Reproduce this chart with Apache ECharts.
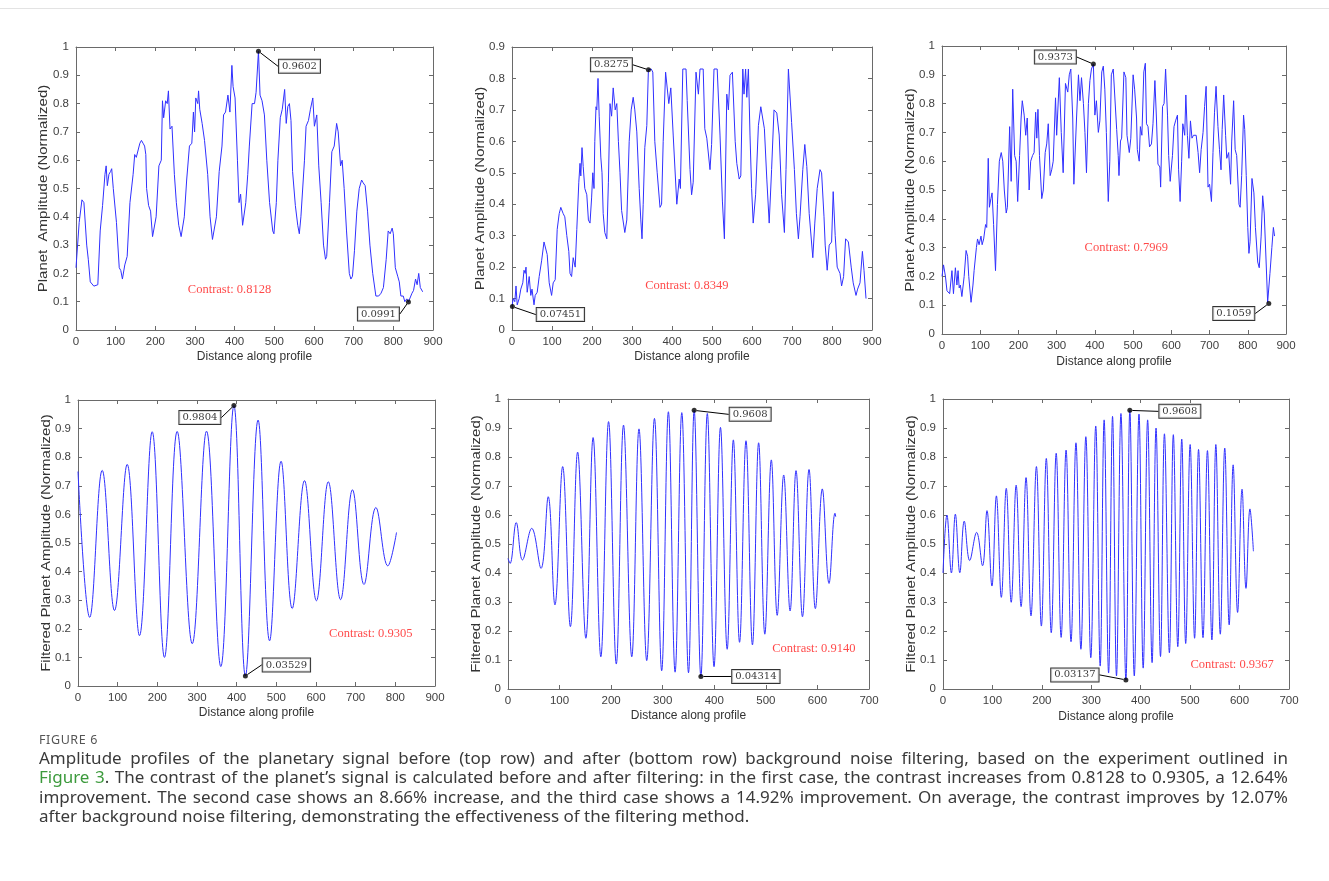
<!DOCTYPE html>
<html><head><meta charset="utf-8">
<script src="https://cdn.jsdelivr.net/npm/echarts@6/dist/echarts.min.js"></script>
<style>
html,body{margin:0;padding:0;background:#fff;}
#wrap{position:relative;width:1329px;height:881px;overflow:hidden;background:#fff;}
#chart{position:absolute;left:0;top:0;width:1329px;height:881px;}
#topline{position:absolute;left:0;top:8px;width:1329px;height:1px;background:#e3e3e3;}
#cap{position:absolute;left:39px;top:732px;font-family:'Noto Sans',sans-serif;}
.fig{font-size:12.5px;letter-spacing:0.6px;color:#555;line-height:16px;}
.ln{font-size:17px;line-height:19.3px;color:#3a3a3a;width:1249px;}
.j{text-align:justify;text-align-last:justify;}
.lnk{color:#3c9a3c;}
</style></head>
<body><div id="wrap"><div id="chart"></div><div id="topline"></div>
<div id="cap"><div class="fig">FIGURE 6</div>
<div class="ln j">Amplitude profiles of the planetary signal before (top row) and after (bottom row) background noise filtering, based on the experiment outlined in</div>
<div class="ln j"><span class="lnk">Figure 3</span>. The contrast of the planet’s signal is calculated before and after filtering: in the first case, the contrast increases from 0.8128 to 0.9305, a 12.64%</div>
<div class="ln j">improvement. The second case shows an 8.66% increase, and the third case shows a 14.92% improvement. On average, the contrast improves by 12.07%</div>
<div class="ln">after background noise filtering, demonstrating the effectiveness of the filtering method.</div></div>
</div>
<script>
// ---------- DATA ----------
const before1 = [[0,0.22],[8,0.38],[15,0.46],[20,0.45],[27,0.3],[31,0.25],[36,0.17],[41,0.165],[45,0.155],[50,0.15],[55,0.16],[61,0.35],[67,0.44],[73,0.55],[76,0.58],[79,0.51],[83,0.55],[87,0.56],[90,0.57],[94,0.5],[102,0.38],[109,0.22],[113,0.21],[117,0.18],[123,0.23],[129,0.26],[136,0.45],[144,0.55],[148,0.62],[152,0.61],[161,0.66],[165,0.67],[169,0.66],[173,0.65],[176,0.62],[178,0.5],[183,0.44],[188,0.42],[193,0.33],[196,0.325],[202,0.4],[209,0.58],[215,0.6],[218,0.81],[221,0.75],[226,0.81],[230,0.8],[233,0.845],[237,0.71],[242,0.72],[248,0.55],[253,0.45],[259,0.37],[265,0.33],[269,0.335],[273,0.4],[279,0.53],[286,0.65],[292,0.66],[296,0.77],[299,0.7],[302,0.82],[307,0.8],[309,0.845],[312,0.78],[318,0.73],[324,0.67],[332,0.55],[338,0.4],[344,0.32],[348,0.315],[354,0.4],[361,0.56],[368,0.65],[372,0.76],[377,0.77],[383,0.83],[388,0.77],[393,0.935],[396,0.86],[401,0.82],[407,0.6],[411,0.45],[415,0.48],[420,0.37],[428,0.45],[433,0.55],[437,0.65],[444,0.8],[450,0.8],[454,0.84],[460,0.985],[464,0.83],[469,0.81],[475,0.76],[481,0.6],[488,0.45],[496,0.35],[499,0.34],[505,0.45],[509,0.6],[515,0.75],[520,0.78],[526,0.85],[530,0.73],[534,0.79],[538,0.8],[542,0.74],[546,0.56],[553,0.44],[559,0.37],[563,0.34],[567,0.4],[576,0.6],[580,0.72],[586,0.74],[591,0.78],[597,0.82],[601,0.72],[607,0.76],[612,0.58],[618,0.45],[624,0.3],[629,0.25],[632,0.26],[639,0.45],[645,0.63],[651,0.65],[657,0.73],[661,0.7],[667,0.58],[671,0.6],[676,0.5],[682,0.35],[689,0.2],[693,0.18],[697,0.19],[702,0.28],[708,0.42],[714,0.5],[720,0.53],[724,0.52],[729,0.51],[735,0.42],[741,0.3],[748,0.2],[756,0.12],[763,0.12],[769,0.13],[775,0.15],[782,0.25],[787,0.35],[792,0.34],[797,0.36],[800,0.34],[805,0.22],[811,0.19],[815,0.17],[819,0.12],[825,0.12],[829,0.1],[834,0.11],[838,0.0991],[842,0.1],[847,0.13],[851,0.14],[856,0.18],[860,0.16],[864,0.2],[868,0.15],[874,0.135]];
const before2 = [[0,0.075],[3,0.1],[7,0.09],[10,0.14],[13,0.08],[18,0.1],[22,0.13],[27,0.15],[30,0.19],[33,0.18],[35,0.2],[38,0.12],[43,0.17],[47,0.11],[50,0.13],[55,0.08],[58,0.11],[63,0.12],[68,0.17],[74,0.22],[80,0.28],[83,0.28],[88,0.24],[93,0.15],[99,0.11],[103,0.15],[108,0.16],[113,0.32],[118,0.37],[122,0.39],[128,0.37],[132,0.36],[137,0.3],[142,0.25],[145,0.18],[149,0.17],[153,0.23],[158,0.2],[162,0.32],[167,0.47],[170,0.53],[172,0.49],[175,0.58],[178,0.52],[182,0.45],[187,0.43],[191,0.35],[195,0.34],[199,0.42],[202,0.5],[205,0.45],[207,0.6],[210,0.71],[212,0.7],[215,0.8],[218,0.68],[222,0.55],[225,0.5],[228,0.37],[232,0.31],[237,0.29],[241,0.47],[245,0.72],[249,0.68],[253,0.77],[258,0.7],[262,0.72],[266,0.6],[270,0.5],[274,0.38],[278,0.38],[282,0.31],[287,0.35],[293,0.6],[298,0.7],[303,0.74],[307,0.7],[312,0.63],[318,0.45],[322,0.35],[325,0.29],[328,0.4],[332,0.58],[337,0.65],[341,0.8275],[344,0.83],[348,0.83],[352,0.82],[357,0.6],[363,0.5],[370,0.39],[374,0.4],[378,0.6],[384,0.82],[388,0.82],[392,0.72],[397,0.77],[403,0.62],[412,0.4],[418,0.48],[421,0.45],[427,0.83],[435,0.83],[438,0.73],[445,0.51],[449,0.43],[453,0.47],[460,0.82],[466,0.75],[470,0.83],[478,0.83],[482,0.64],[487,0.61],[495,0.51],[499,0.59],[505,0.83],[513,0.83],[520,0.62],[526,0.41],[531,0.29],[537,0.75],[541,0.7],[545,0.81],[551,0.82],[558,0.6],[562,0.53],[568,0.48],[572,0.49],[577,0.83],[580,0.75],[584,0.83],[587,0.74],[591,0.83],[595,0.62],[599,0.45],[603,0.34],[609,0.43],[616,0.65],[622,0.71],[626,0.71],[631,0.64],[637,0.48],[643,0.34],[649,0.51],[655,0.7],[662,0.69],[668,0.62],[674,0.43],[681,0.31],[685,0.51],[691,0.83],[695,0.83],[699,0.66],[706,0.51],[711,0.37],[716,0.29],[720,0.36],[727,0.51],[732,0.59],[737,0.52],[743,0.37],[752,0.23],[757,0.34],[763,0.45],[770,0.51],[774,0.5],[780,0.36],[783,0.27],[788,0.19],[793,0.27],[799,0.28],[803,0.44],[808,0.3],[813,0.2],[820,0.18],[824,0.14],[829,0.17],[834,0.29],[841,0.28],[848,0.2],[853,0.15],[860,0.11],[864,0.13],[870,0.15],[876,0.25],[880,0.19],[885,0.1]];
const before3 = [[0,0.2],[4,0.24],[9,0.2],[13,0.15],[20,0.14],[23,0.14],[26,0.22],[30,0.14],[35,0.23],[39,0.17],[42,0.22],[45,0.16],[48,0.17],[52,0.13],[58,0.2],[63,0.29],[67,0.27],[70,0.2],[76,0.11],[81,0.17],[84,0.22],[90,0.3],[93,0.33],[97,0.31],[102,0.34],[105,0.31],[109,0.33],[114,0.38],[117,0.37],[121,0.61],[124,0.44],[128,0.47],[131,0.49],[135,0.38],[140,0.22],[145,0.45],[150,0.6],[155,0.63],[159,0.6],[163,0.5],[168,0.42],[171,0.44],[177,0.72],[181,0.53],[185,0.85],[190,0.62],[194,0.6],[198,0.46],[203,0.62],[207,0.75],[210,0.81],[215,0.76],[219,0.69],[223,0.75],[228,0.5],[232,0.6],[237,0.62],[241,0.63],[245,0.77],[248,0.68],[251,0.78],[255,0.62],[261,0.47],[265,0.5],[270,0.63],[274,0.66],[278,0.73],[283,0.55],[287,0.57],[291,0.6],[297,0.82],[300,0.69],[307,0.89],[312,0.7],[317,0.56],[323,0.87],[329,0.84],[333,0.9],[337,0.92],[342,0.75],[345,0.52],[352,0.75],[357,0.9],[361,0.81],[365,0.89],[370,0.8],[374,0.7],[378,0.56],[383,0.8],[387,0.88],[391,0.92],[396,0.9373],[400,0.76],[404,0.81],[409,0.7],[413,0.74],[418,0.91],[422,0.93],[426,0.85],[430,0.7],[435,0.46],[439,0.6],[443,0.9],[448,0.92],[457,0.71],[461,0.62],[463,0.55],[467,0.67],[470,0.68],[476,0.91],[481,0.89],[484,0.69],[490,0.63],[494,0.68],[500,0.9],[504,0.85],[509,0.75],[511,0.64],[516,0.6],[519,0.72],[523,0.69],[528,0.91],[532,0.94],[535,0.73],[539,0.72],[543,0.65],[548,0.66],[552,0.73],[557,0.88],[561,0.75],[565,0.59],[570,0.58],[572,0.51],[577,0.79],[581,0.8],[585,0.92],[590,0.76],[593,0.62],[597,0.53],[603,0.62],[607,0.72],[611,0.74],[616,0.76],[619,0.57],[623,0.46],[627,0.6],[630,0.73],[635,0.69],[638,0.83],[642,0.69],[646,0.61],[650,0.74],[654,0.68],[658,0.69],[665,0.69],[670,0.63],[674,0.56],[678,0.64],[683,0.7],[687,0.79],[691,0.86],[696,0.51],[700,0.52],[705,0.46],[709,0.63],[713,0.77],[717,0.86],[722,0.72],[726,0.64],[730,0.57],[733,0.71],[737,0.83],[742,0.69],[745,0.61],[750,0.63],[755,0.52],[758,0.67],[763,0.81],[767,0.64],[771,0.62],[777,0.45],[780,0.44],[784,0.55],[789,0.76],[792,0.71],[796,0.55],[800,0.37],[803,0.28],[806,0.32],[811,0.54],[816,0.49],[820,0.37],[826,0.25],[830,0.23],[835,0.34],[839,0.48],[843,0.42],[848,0.25],[852,0.11],[855,0.1059],[858,0.21],[863,0.3],[867,0.37],[870,0.34]];
// filtered profiles: turning points (peaks / troughs) and end points
const after1 = [[0,0.75],[29.5,0.24],[61,0.754],[92,0.264],[124,0.775],[155,0.176],[187,0.889],[218,0.1],[250,0.89],[288,0.148],[324,0.891],[360,0.068],[393,0.9804],[422,0.03529],[454,0.93],[483,0.158],[512,0.786],[540,0.271],[571,0.718],[601,0.298],[631,0.714],[662,0.302],[692,0.686],[721,0.355],[751,0.624],[781,0.42],[803,0.537]];
const after2 = [[0,0.45],[4,0.433],[16,0.574],[28,0.445],[46,0.554],[64,0.416],[78,0.663],[91,0.29],[106,0.767],[121,0.215],[135,0.817],[151,0.175],[165,0.867],[180,0.111],[195,0.922],[210,0.086],[224,0.91],[240,0.111],[254,0.897],[269,0.098],[284,0.933],[298,0.063],[311,0.956],[324,0.058],[337,0.953],[350,0.056],[361,0.9608],[374,0.04314],[386.5,0.95],[399.5,0.077],[412,0.902],[425,0.137],[437,0.859],[449,0.161],[461.5,0.856],[474,0.152],[486,0.849],[498,0.189],[510.6,0.79],[522,0.254],[534.6,0.738],[547,0.269],[558.5,0.753],[571,0.249],[583.7,0.757],[596,0.277],[609.5,0.69],[622.5,0.364],[634,0.606],[635.5,0.594]];
const after3 = [[0,0.4],[8,0.6],[17,0.4],[25,0.603],[34,0.401],[43,0.579],[54,0.443],[68,0.54],[80,0.425],[89,0.615],[99,0.355],[108,0.666],[118,0.316],[128,0.692],[138,0.299],[148,0.703],[158,0.284],[168,0.729],[178,0.252],[189,0.767],[199,0.217],[209,0.795],[219,0.194],[229,0.813],[239,0.178],[249,0.824],[259,0.163],[269,0.849],[279,0.137],[289,0.87],[299,0.108],[309,0.907],[318,0.079],[326,0.928],[335,0.055],[343,0.94],[351,0.045],[360,0.95],[370,0.03137],[378,0.9608],[387,0.045],[396.5,0.948],[405,0.072],[414,0.928],[423,0.091],[431,0.9],[440,0.112],[448,0.88],[458,0.125],[466,0.877],[475,0.146],[483,0.862],[491,0.157],[500,0.843],[509,0.175],[517,0.826],[526,0.177],[535,0.822],[544,0.169],[552,0.843],[561,0.189],[570,0.831],[579,0.221],[587,0.773],[596,0.264],[605,0.689],[613,0.347],[621,0.621],[628,0.475]];
// data tips
const tips1 = [[460,0.985],[838,0.0991]];   const tipText1 = ['0.9602','0.0991'];
const tips2 = [[341,0.8275],[1,0.0745]];    const tipText2 = ['0.8275','0.07451'];
const tips3 = [[396,0.9373],[855,0.1059]];  const tipText3 = ['0.9373','0.1059'];
const tips4 = [[393,0.9804],[422,0.03529]]; const tipText4 = ['0.9804','0.03529'];
const tips5 = [[361,0.9608],[374,0.04314]]; const tipText5 = ['0.9608','0.04314'];
const tips6 = [[378,0.9608],[370,0.03137]]; const tipText6 = ['0.9608','0.03137'];
const contrastText = ['Contrast: 0.8128','Contrast: 0.8349','Contrast: 0.7969','Contrast: 0.9305','Contrast: 0.9140','Contrast: 0.9367'];
const yNames = ['Planet  Amplitude (Normalized)','Planet Amplitude (Normalized)','Planet Amplitude (Normalized)','Filtered Planet Amplitude (Normalized)','Filtered Planet Amplitude (Normalized)','Filtered Planet Amplitude (Normalized)'];
const xName = 'Distance along profile';

// ---------- LAYOUT / STYLE ----------
const grids = [
  {left:76, top:47, width:357, height:283},
  {left:512, top:47, width:360, height:283},
  {left:942, top:46, width:344, height:288},
  {left:78, top:400, width:357, height:286},
  {left:508, top:399, width:361, height:290},
  {left:943, top:399, width:346, height:290}
];
const panels = [
  {data:before1, smooth:false, xmax:900, ymax:1, tips:tips1, tipText:tipText1, tipOff:[[41,15],[-30,12]], cPos:[387,0.142], yOff:32, xGap:21},
  {data:before2, smooth:false, xmax:900, ymax:0.9, tips:tips2, tipText:tipText2, tipOff:[[-37,-5],[48,8]], cPos:[437,0.142], yOff:31, xGap:21},
  {data:before3, smooth:false, xmax:900, ymax:1, tips:tips3, tipText:tipText3, tipOff:[[-38,-7],[-35,10]], cPos:[482,0.299], yOff:31, xGap:22},
  {data:after1, smooth:true, xmax:900, ymax:1, tips:tips4, tipText:tipText4, tipOff:[[-34,12],[41,-11]], cPos:[738,0.183], yOff:31.5, xGap:21},
  {data:after2, smooth:true, xmax:700, ymax:1, tips:tips5, tipText:tipText5, tipOff:[[56,4],[55,0]], cPos:[593,0.14], yOff:31, xGap:21},
  {data:after3, smooth:true, xmax:700, ymax:1, tips:tips6, tipText:tipText6, tipOff:[[50,1],[-51,-5]], cPos:[585,0.083], yOff:31, xGap:22}
];
const FF = "'Liberation Sans', Arial, sans-serif";
const AX = '#6a6a6a', LBL = '#404040', LINE = '#3030ff';
const NAME_STRETCH = 1.25;

const xAxes = [], yAxes = [], series = [], graphics = [];
panels.forEach((p, i) => {
  const g = grids[i];
  const common = {type:'value', gridIndex:i, min:0, max:p.xmax, interval:100,
    axisLine:{show:true, onZero:false, lineStyle:{color:AX, width:1}},
    axisTick:{show:true, inside:true, length:4, lineStyle:{color:AX}},
    splitLine:{show:false}};
  xAxes.push(Object.assign({}, common, {position:'bottom',
    axisLabel:{color:LBL, fontSize:11.5, margin:6, fontFamily:FF},
    name:xName, nameLocation:'middle', nameGap:p.xGap,
    nameTextStyle:{color:'#333', fontSize:12, fontFamily:FF}}));
  xAxes.push(Object.assign({}, common, {position:'top', axisLabel:{show:false}}));
  const yc = {type:'value', gridIndex:i, min:0, max:p.ymax, interval:0.1,
    axisLine:{show:true, onZero:false, lineStyle:{color:AX, width:1}},
    axisTick:{show:true, inside:true, length:4, lineStyle:{color:AX}},
    splitLine:{show:false}};
  yAxes.push(Object.assign({}, yc, {position:'left',
    axisLabel:{color:LBL, fontSize:11.5, margin:7, fontFamily:FF}}));
  yAxes.push(Object.assign({}, yc, {position:'right', axisLabel:{show:false}}));

  // y-axis title (stretched along its length like the reference)
  graphics.push({type:'text', x:g.left - p.yOff, y:g.top + g.height/2,
    rotation:Math.PI/2, scaleX:NAME_STRETCH, silent:true,
    style:{text:yNames[i], fontSize:12, fontFamily:FF, fill:'#333',
      textAlign:'center', textVerticalAlign:'middle', verticalAlign:'middle'}});

  series.push({type:'line', xAxisIndex:2*i, yAxisIndex:2*i, data:p.data,
    showSymbol:false, symbol:'none', smooth:p.smooth ? 0.4 : false,
    lineStyle:{color:LINE, width:1}, z:2, silent:true});

  series.push({type:'scatter', xAxisIndex:2*i, yAxisIndex:2*i, data:p.tips,
    symbol:'circle', symbolSize:5, itemStyle:{color:'#000'}, z:5, silent:true,
    label:{show:true, position:'inside', formatter:(pr)=>p.tipText[pr.dataIndex],
      fontFamily:"'DejaVu Serif', serif", fontSize:10, color:'#000',
      backgroundColor:'#fff', borderColor:'#000', borderWidth:1, padding:[2,3,1,3]},
    labelLayout:(pr)=>({dx:p.tipOff[pr.dataIndex][0], dy:p.tipOff[pr.dataIndex][1]}),
    labelLine:{show:true, lineStyle:{color:'#000', width:1}}});

  series.push({type:'scatter', xAxisIndex:2*i, yAxisIndex:2*i, data:[p.cPos],
    symbolSize:1, itemStyle:{color:'rgba(0,0,0,0)'}, silent:true, z:4,
    label:{show:true, position:'inside', formatter:contrastText[i], color:'#ff1a1a',
      fontFamily:"'Liberation Serif', 'Times New Roman', serif", fontSize:12.5}});
});

const chart = echarts.init(document.getElementById('chart'), null, {renderer:'canvas'});
chart.setOption({animation:false, backgroundColor:'transparent', grid:grids, xAxis:xAxes, yAxis:yAxes, series:series, graphic:graphics});
</script></body></html>
